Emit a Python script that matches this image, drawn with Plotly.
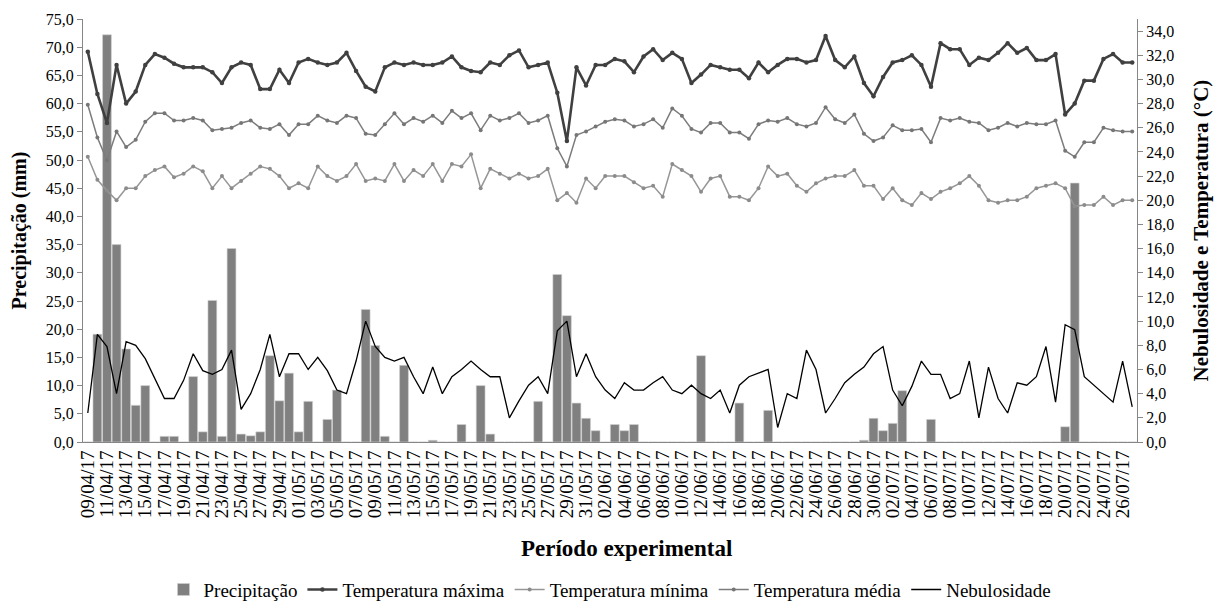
import pandas as pd
import plotly.graph_objects as go

# Categories: daily dates 09/04/17 .. 27/07/17 (110 days), labels every 2nd day
dates = [d.strftime("%d/%m/%y") for d in pd.date_range("2017-04-09", "2017-07-27", freq="D")]
tick_labels = dates[::2]

precipitacao = [
    0, 19.1, 72.2, 35.0, 16.5, 6.5, 10.0, 0, 1.0, 1.0,
    0, 11.6, 1.8, 25.1, 1.0, 34.3, 1.4, 1.1, 1.8, 15.3,
    7.3, 12.2, 1.8, 7.2, 0, 4.0, 9.2, 0, 0, 23.5,
    17.1, 1.0, 0, 13.6, 0, 0, 0.3, 0, 0, 3.1,
    0, 10.0, 1.4, 0, 0, 0, 0, 7.2, 0, 29.7,
    22.4, 6.9, 4.2, 2.0, 0, 3.1, 2.0, 3.1, 0, 0,
    0, 0, 0, 0, 15.3, 0, 0, 0, 6.9, 0,
    0, 5.6, 0, 0, 0, 0, 0, 0, 0, 0,
    0, 0.3, 4.2, 2.0, 3.3, 9.1, 0, 0, 4.0, 0,
    0, 0, 0, 0, 0, 0, 0, 0, 0, 0,
    0, 0, 2.7, 45.9, 0, 0, 0, 0, 0, 0,
]

temp_max = [
    32.3, 28.8, 26.4, 31.2, 28.0, 29.0, 31.2, 32.1, 31.8, 31.3,
    31.0, 31.0, 31.0, 30.6, 29.7, 31.0, 31.4, 31.2, 29.2, 29.2,
    30.8, 29.7, 31.4, 31.7, 31.4, 31.2, 31.4, 32.2, 30.7, 29.4,
    29.0, 31.0, 31.4, 31.2, 31.4, 31.2, 31.2, 31.4, 31.9, 31.0,
    30.7, 30.6, 31.4, 31.2, 32.0, 32.4, 31.0, 31.2, 31.4, 28.9,
    24.9, 31.0, 29.5, 31.2, 31.2, 31.7, 31.5, 30.6, 31.9, 32.5,
    31.6, 32.2, 31.7, 29.7, 30.4, 31.2, 31.0, 30.8, 30.8, 30.1,
    31.4, 30.6, 31.2, 31.7, 31.7, 31.4, 31.6, 33.6, 31.6, 31.0,
    31.9, 29.7, 28.6, 30.2, 31.4, 31.6, 32.0, 31.2, 29.4, 33.0,
    32.5, 32.5, 31.2, 31.8, 31.6, 32.2, 33.0, 32.2, 32.6, 31.6,
    31.6, 32.1, 27.1, 28.0, 29.9, 29.9, 31.7, 32.1, 31.4, 31.4,
]

temp_media = [
    27.9, 25.2, 23.3, 25.7, 24.4, 25.0, 26.5, 27.2, 27.2, 26.6,
    26.6, 26.8, 26.6, 25.8, 25.9, 26.0, 26.4, 26.6, 26.0, 25.9,
    26.3, 25.4, 26.3, 26.3, 27.0, 26.6, 26.4, 27.0, 26.8, 25.5,
    25.4, 26.3, 27.2, 26.3, 26.8, 26.5, 27.0, 26.4, 27.4, 26.8,
    27.2, 25.8, 27.0, 26.6, 26.8, 27.2, 26.4, 26.6, 27.0, 24.3,
    22.8, 25.4, 25.7, 26.1, 26.5, 26.7, 26.6, 26.1, 26.3, 26.7,
    26.0, 27.6, 27.0, 25.9, 25.6, 26.4, 26.4, 25.6, 25.6, 25.1,
    26.3, 26.6, 26.5, 26.8, 26.3, 26.1, 26.4, 27.7, 26.7, 26.4,
    27.1, 25.5, 24.9, 25.2, 26.2, 25.8, 25.8, 25.9, 24.8, 26.8,
    26.6, 26.8, 26.5, 26.4, 25.8, 26.0, 26.4, 26.1, 26.4, 26.3,
    26.3, 26.6, 24.1, 23.6, 24.8, 24.8, 26.0, 25.8, 25.7, 25.7,
]

temp_min = [
    23.6, 21.7, 20.8, 20.0, 21.0, 21.0, 22.0, 22.5, 22.8, 21.9,
    22.2, 22.8, 22.4, 21.0, 22.0, 21.0, 21.6, 22.2, 22.8, 22.6,
    22.0, 21.0, 21.4, 21.0, 22.8, 22.0, 21.6, 22.0, 23.0, 21.6,
    21.8, 21.6, 23.0, 21.6, 22.5, 22.0, 23.0, 21.6, 23.0, 22.8,
    23.8, 21.0, 22.6, 22.2, 21.8, 22.2, 21.8, 22.0, 22.6, 20.0,
    20.6, 19.8, 21.8, 21.0, 22.0, 22.0, 22.0, 21.5, 21.0, 21.2,
    20.3, 23.0, 22.5, 22.0, 20.7, 21.8, 22.0, 20.3, 20.3, 20.0,
    21.0, 22.8, 22.0, 22.2, 21.2, 20.7, 21.4, 21.8, 22.0, 22.0,
    22.5, 21.2, 21.2, 20.1, 21.0, 20.0, 19.6, 20.6, 20.1, 20.7,
    21.0, 21.4, 22.0, 21.2, 20.0, 19.8, 20.0, 20.0, 20.3, 21.0,
    21.2, 21.4, 21.0, 19.5, 19.6, 19.6, 20.3, 19.6, 20.0, 20.0,
]

nebulosidade = [
    2.4, 8.9, 7.9, 4.0, 8.3, 8.0, 6.9, 5.2, 3.6, 3.6,
    5.1, 7.3, 5.9, 5.6, 6.0, 7.6, 2.7, 4.0, 6.0, 8.9,
    5.4, 7.3, 7.3, 6.0, 7.0, 5.9, 4.3, 4.0, 6.7, 10.0,
    7.9, 7.0, 6.7, 7.0, 5.4, 4.0, 6.2, 4.0, 5.4, 6.0,
    6.7, 6.0, 5.4, 5.4, 2.0, 3.4, 4.7, 5.4, 4.0, 9.2,
    10.0, 5.4, 7.3, 5.4, 4.3, 3.6, 4.9, 4.3, 4.3, 4.9,
    5.4, 4.3, 4.0, 4.7, 4.0, 3.6, 4.3, 2.4, 4.7, 5.4,
    5.7, 6.0, 1.2, 4.0, 3.6, 7.6, 6.0, 2.4, 3.6, 4.9,
    5.6, 6.2, 7.3, 7.9, 4.3, 3.0, 4.6, 6.7, 5.6, 5.6,
    3.6, 4.0, 6.7, 2.0, 6.2, 3.6, 2.4, 4.9, 4.7, 5.4,
    7.9, 3.3, 9.7, 9.3, 5.4, 4.7, 4.0, 3.3, 6.7, 2.9,
]

left_ticks = [v * 5 for v in range(16)]
right_ticks = [v * 2 for v in range(18)]

FONT = "Liberation Serif, Times New Roman, serif"
AXIS = "#868686"

fig = go.Figure()
fig.add_trace(go.Bar(
    x=dates, y=precipitacao, name="Precipitação", yaxis="y",
    marker=dict(color="#808080", line=dict(color="#d0d0d0", width=0.6)),
))
fig.add_trace(go.Scatter(
    x=dates, y=temp_max, name="Temperatura máxima", yaxis="y2",
    mode="lines+markers", line=dict(color="#404040", width=2.6),
    marker=dict(size=4.5, color="#404040"),
))
fig.add_trace(go.Scatter(
    x=dates, y=temp_min, name="Temperatura mínima", yaxis="y2",
    mode="lines+markers", line=dict(color="#969696", width=1.5),
    marker=dict(size=4, color="#8c8c8c"),
))
fig.add_trace(go.Scatter(
    x=dates, y=temp_media, name="Temperatura média", yaxis="y2",
    mode="lines+markers", line=dict(color="#7c7c7c", width=1.5),
    marker=dict(size=4, color="#767676"),
))
fig.add_trace(go.Scatter(
    x=dates, y=nebulosidade, name="Nebulosidade", yaxis="y2",
    mode="lines", line=dict(color="#000000", width=1.3),
))

# The page body has an 8px default margin, so the figure is sized 8px smaller
# and its margins shifted so the plot area lands where the reference has it.
fig.update_layout(
    width=1217, height=595,
    margin=dict(l=75, r=88, t=11, b=161, autoexpand=False),
    paper_bgcolor="white", plot_bgcolor="white",
    separators=",.",
    bargap=0.08,
    font=dict(family=FONT, size=16, color="black"),
    showlegend=True,
    legend=dict(orientation="h", x=0.5, xanchor="center", y=-0.349, yanchor="middle",
                font=dict(family=FONT, size=19, color="black"), itemwidth=30,
                tracegroupgap=0),
    xaxis=dict(type="category", range=[-0.5, len(dates) - 0.5], tickmode="array",
               tickvals=tick_labels, ticktext=tick_labels,
               tickangle=-90, tickfont=dict(family=FONT, size=19, color="black"),
               showline=True, linecolor=AXIS, linewidth=1, ticks="", showgrid=False,
               zeroline=False, automargin=False),
    yaxis=dict(range=[0, 75], tickmode="array", tickvals=left_ticks, tickformat=".1f",
               showline=True, linecolor=AXIS, linewidth=1, ticks="outside", ticklen=5,
               tickcolor=AXIS, showgrid=False, zeroline=False, automargin=False,
               tickfont=dict(family=FONT, size=16, color="black")),
    yaxis2=dict(range=[0, 35], overlaying="y", side="right", tickmode="array",
                tickvals=right_ticks, tickformat=".1f", showline=True, linecolor=AXIS,
                linewidth=1, ticks="outside", ticklen=5, tickcolor=AXIS, showgrid=False,
                zeroline=False, automargin=False,
                tickfont=dict(family=FONT, size=16, color="black")),
    annotations=[
        dict(text="<b>Período experimental</b>", xref="paper", yref="paper",
             x=0.516, y=-0.2506, xanchor="center", yanchor="middle", showarrow=False,
             font=dict(family=FONT, size=23, color="black")),
        dict(text="<b>Precipitação (mm)</b>", xref="paper", yref="paper",
             x=-0.0598, y=0.5, xanchor="center", yanchor="middle", showarrow=False,
             textangle=-90, font=dict(family=FONT, size=20, color="black")),
        dict(text="<b>Nebulosidade e Temperatura (°C)</b>", xref="paper", yref="paper",
             x=1.0598, y=0.5, xanchor="center", yanchor="middle", showarrow=False,
             textangle=-90, font=dict(family=FONT, size=21, color="black")),
    ],
)

fig.write_html("out.html")
